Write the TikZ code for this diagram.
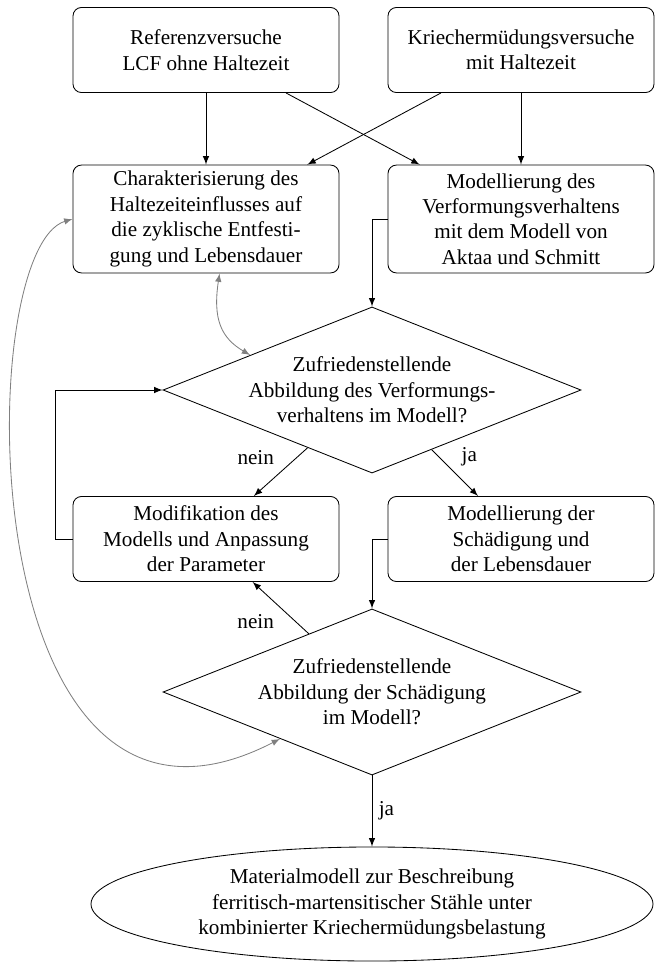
\documentclass[tikz,border=0pt]{standalone}
\usepackage{fontspec}
\setmainfont{Liberation Serif}
\usetikzlibrary{shapes.geometric,arrows}
\begin{document}
\begin{tikzpicture}[x=0.4726pt,y=-0.4726pt,
  box/.style={draw, rounded corners=4pt, align=center, minimum width=125.7pt, inner sep=0pt},
  dia/.style={draw, diamond, minimum width=197.5pt, minimum height=78.5pt, inner sep=0pt},
  dtext/.style={align=center, inner sep=0pt},
  arr/.style={-latex},
  garr/.style={latex-latex, gray},
  lbl/.style={inner sep=3pt}]
\useasboundingbox (0,0) rectangle (655,962);
% boxes
\node[box, minimum height=40.2pt] (ref) at (206,50) {Referenzversuche\\LCF ohne Haltezeit};
\node[box, minimum height=40.2pt] (krie) at (521,50) {Kriechermüdungsversuche\\mit Haltezeit};
\node[box, minimum height=51pt] (charakt) at (206,219) {Charakterisierung des\\Haltezeiteinflusses auf\\die zyklische Entfesti-\\gung und Lebensdauer};
\node[box, minimum height=51pt] (modverf) at (521,219) {Modellierung des\\Verformungsverhaltens\\mit dem Modell von\\Aktaa und Schmitt};
\node[dia] (d1) at (372,390) {};
\node[dtext] (d1t) at (d1.center) {Zufriedenstellende\\Abbildung des Verformungs-\\verhaltens im Modell?};
\node[box, minimum height=40.2pt] (modif) at (206,539) {Modifikation des\\Modells und Anpassung\\der Parameter};
\node[box, minimum height=40.2pt] (sch) at (521,539) {Modellierung der\\Schädigung und\\der Lebensdauer};
\node[dia] (d2) at (372,692) {};
\node[dtext] (d2t) at (d2.center) {Zufriedenstellende\\Abbildung der Schädigung\\im Modell?};
\node[draw, ellipse, align=center, minimum width=265.6pt, minimum height=53.9pt, inner sep=0pt] (ell) at (372,904) {Materialmodell zur Beschreibung\\ferritisch-martensitischer Stähle unter\\kombinierter Kriechermüdungsbelastung};
% connectors
\draw[arr] (ref) -- (charakt);
\draw[arr] (krie) -- (modverf);
\draw[arr] (ref) -- (modverf);
\draw[arr] (krie) -- (charakt);
\draw[arr] (modverf.west) -| (d1.north);
\draw[arr] (d1) -- node[above left, lbl] (l1) {nein} (modif);
\draw[arr] (d1) -- node[above right, lbl] (l2) {ja} (sch);
\draw[arr] (modif.west) -- ++(-17,0) |- (d1.west);
\draw[arr] (sch.west) -| (d2.north);
\draw[arr] (d2) -- node[below left, lbl] (l3) {nein} (modif);
\draw[arr] (d2) -- node[right, lbl] (l4) {ja} (ell);
\draw[garr] (charakt.-76) .. controls +(-7,46) and +(-29,-17) .. (d1.164);
\draw[garr] (charakt.west) .. controls +(-102,30) and +(-310,160) .. (d2.207);
\end{tikzpicture}
\end{document}
